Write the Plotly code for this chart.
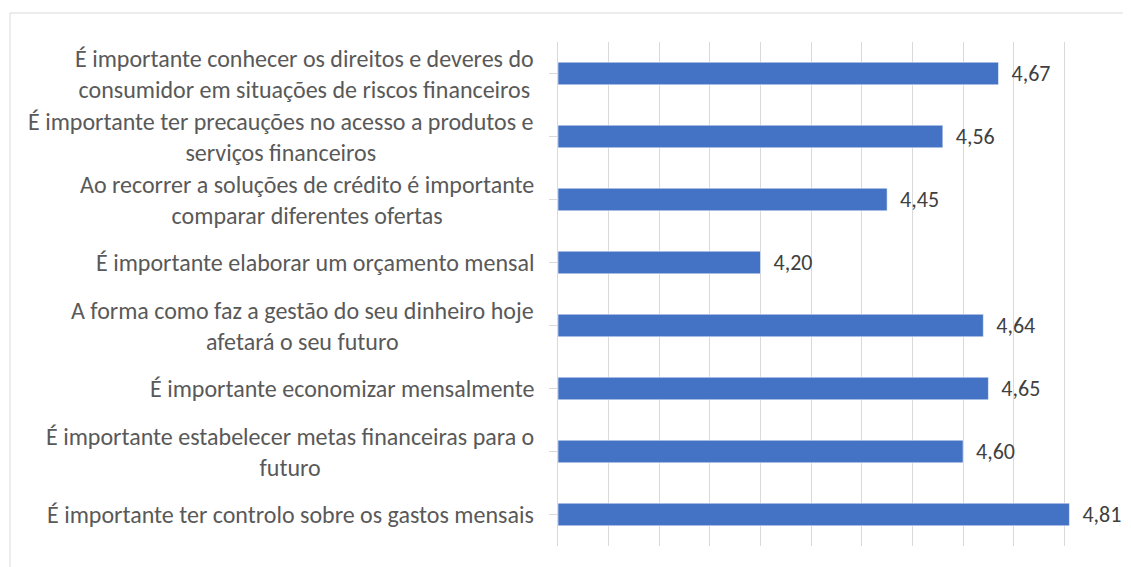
import plotly.graph_objects as go

categories = [
    "É importante conhecer os direitos e deveres do<br>consumidor em situações de riscos financeiros",
    "É importante ter precauções no acesso a produtos e<br>serviços financeiros",
    "Ao recorrer a soluções de crédito é importante<br>comparar diferentes ofertas",
    "É importante elaborar um orçamento mensal",
    "A forma como faz a gestão do seu dinheiro hoje<br>afetará o seu futuro",
    "É importante economizar mensalmente",
    "É importante estabelecer metas financeiras para o<br>futuro",
    "É importante ter controlo sobre os gastos mensais",
]
values = [4.67, 4.56, 4.45, 4.20, 4.64, 4.65, 4.60, 4.81]
x_range = [3.8, 4.9]
x_step = 0.1

FONT = "Calibri, Carlito, Lato, sans-serif"
OFF = 8  # default page body margin
W, H = 1131 - OFF, 567 - OFF
L, R, T, B = 558 - OFF, 16, 42 - OFF, 21
pw, ph = W - L - R, H - T - B

def px_x(X):
    return (X - OFF - L) / pw

def px_y(Y):
    return (H - B - (Y - OFF)) / ph

labels = ["\u00a0\u00a0" + f"{v:.2f}".replace(".", ",") for v in values]

fig = go.Figure(go.Bar(
    x=[v - x_range[0] for v in values],
    y=list(range(len(categories))),
    orientation="h",
    width=0.36,
    base=x_range[0],
    marker=dict(color="#4472C4", line=dict(color="rgba(255,255,255,0.7)", width=0.8)),
    text=labels,
    textposition="outside",
    constraintext="none",
    cliponaxis=False,
    textfont=dict(family=FONT, size=22, color="#404040"),
    hoverinfo="skip",
))

annotations = []
for i, c in enumerate(categories):
    annotations.append(dict(
        x=0, xref="paper", y=i, yref="y",
        text=c, showarrow=False, xanchor="right", yanchor="middle",
        align="center", xshift=-22,
        font=dict(family=FONT, size=24, color="#595959"),
    ))

fig.update_layout(
    width=W, height=H,
    margin=dict(l=L, r=R, t=T, b=B),
    paper_bgcolor="white", plot_bgcolor="white",
    showlegend=False,
    bargap=0.64,
    annotations=annotations,
    shapes=[dict(
        type="rect", xref="paper", yref="paper",
        x0=px_x(10), x1=px_x(1129), y0=px_y(620), y1=px_y(13),
        line=dict(color="#D9D9D9", width=1), fillcolor="rgba(0,0,0,0)", layer="below",
    )],
    xaxis=dict(
        range=x_range, dtick=x_step, tick0=x_range[0],
        showgrid=True, gridcolor="#D9D9D9", gridwidth=1.3,
        showticklabels=False, zeroline=False, showline=False, ticks="",
    ),
    yaxis=dict(
        range=[len(categories) - 0.5, -0.5],
        tickmode="array", tickvals=list(range(len(categories))),
        showticklabels=False, ticks="outside", ticklen=8, tickcolor="#D9D9D9",
        tickson="boundaries", showgrid=False, zeroline=False,
        showline=True, linecolor="#D9D9D9", linewidth=1.3,
    ),
)

fig.write_html("out.html")
